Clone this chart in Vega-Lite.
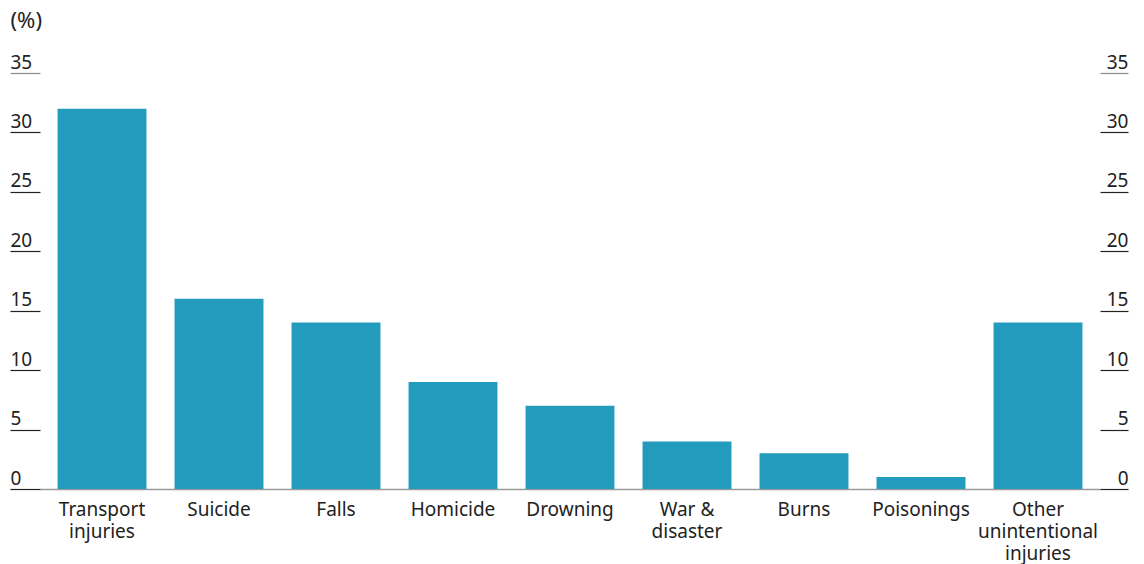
{
  "$schema": "https://vega.github.io/schema/vega-lite/v6.json",
  "autosize": {"type": "none"},
  "padding": {"left": 40, "top": 73, "right": 44, "bottom": 75},
  "width": 1060,
  "height": 416,
  "background": "white",
  "config": {
    "view": {"stroke": null},
    "font": "Noto Sans",
    "axis": {"labelFont": "Noto Sans", "titleFont": "Noto Sans", "grid": false}
  },
  "data": {
    "values": [
      {"cause": "Transport|injuries", "share": 32},
      {"cause": "Suicide", "share": 16},
      {"cause": "Falls", "share": 14},
      {"cause": "Homicide", "share": 9},
      {"cause": "Drowning", "share": 7},
      {"cause": "War &|disaster", "share": 4},
      {"cause": "Burns", "share": 3},
      {"cause": "Poisonings", "share": 1},
      {"cause": "Other|unintentional|injuries", "share": 14}
    ]
  },
  "encoding": {
    "x": {
      "field": "cause",
      "type": "nominal",
      "sort": null,
      "scale": {"paddingInner": 0.24, "paddingOuter": 0.15},
      "axis": {
        "title": null,
        "labelAngle": 0,
        "labelExpr": "split(datum.value, '|')",
        "labelFontSize": 19,
        "labelColor": "#222222",
        "labelPadding": 11,
        "labelLineHeight": 22,
        "ticks": false,
        "domainColor": "#9a9a9a",
        "domainWidth": 1.5
      }
    }
  },
  "layer": [
    {
      "mark": {"type": "bar", "color": "#239bbd"},
      "encoding": {
        "y": {
          "field": "share",
          "type": "quantitative",
          "scale": {"domain": [0, 35], "nice": false},
          "axis": {
            "orient": "left",
            "values": [0, 5, 10, 15, 20, 25, 30, 35],
            "domain": false,
            "tickSize": 30,
            "tickWidth": 1.2,
            "tickColor": {"condition": {"test": "datum.value == 35", "value": "#8a8a8a"}, "value": "#222222"},
            "labelAlign": "left",
            "labelBaseline": "alphabetic",
            "labelPadding": 0,
            "labelOffset": -5,
            "labelFontSize": 19,
            "labelColor": "#222222",
            "title": "(%)",
            "titleAngle": 0,
            "titleAlign": "left",
            "titleBaseline": "middle",
            "titleX": -30,
            "titleY": -53,
            "titleFontSize": 22,
            "titleFontWeight": "normal",
            "titleColor": "#222222"
          }
        }
      }
    },
    {
      "mark": {"type": "bar", "opacity": 0},
      "encoding": {
        "y": {
          "field": "share",
          "type": "quantitative",
          "scale": {"domain": [0, 35], "nice": false},
          "axis": {
            "orient": "right",
            "values": [0, 5, 10, 15, 20, 25, 30, 35],
            "domain": false,
            "tickSize": 28,
            "tickWidth": 1.2,
            "tickColor": {"condition": {"test": "datum.value == 35", "value": "#8a8a8a"}, "value": "#222222"},
            "labelAlign": "right",
            "labelBaseline": "alphabetic",
            "labelPadding": 0,
            "labelOffset": -5,
            "labelFontSize": 19,
            "labelColor": "#222222",
            "title": null
          }
        }
      }
    }
  ],
  "resolve": {"scale": {"y": "shared"}, "axis": {"y": "independent"}}
}
